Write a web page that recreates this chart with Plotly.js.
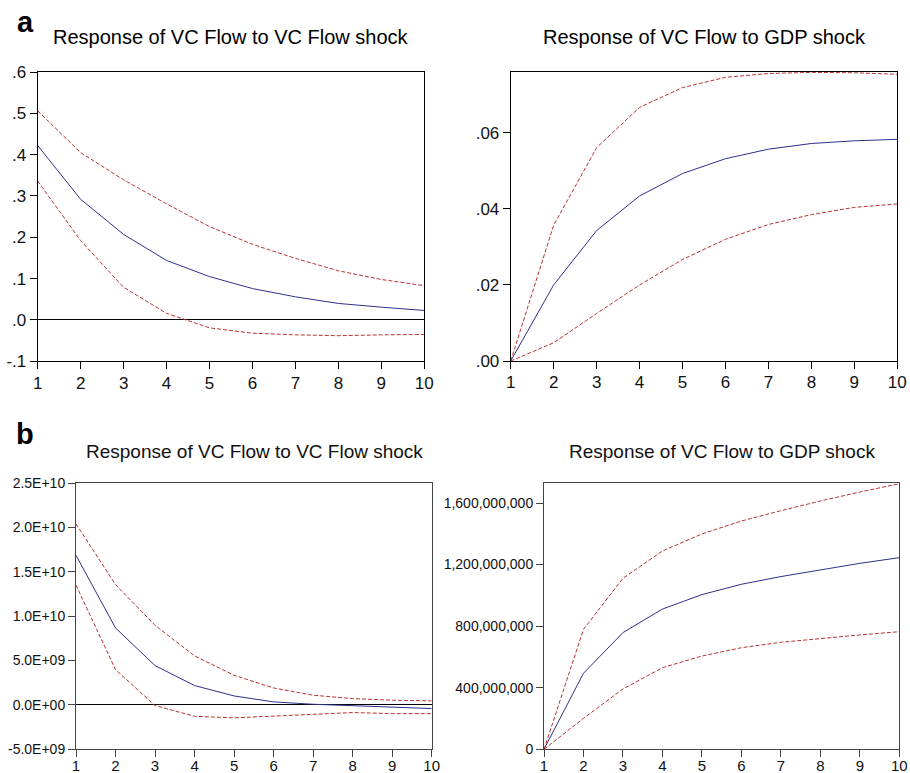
<!DOCTYPE html>
<html>
<head>
<meta charset="utf-8">
<script src="https://cdn.plot.ly/plotly-3.0.1.min.js"></script>
<style>html,body{margin:0;padding:0;background:#fff;}#chart{width:910px;height:773px;}</style>
</head>
<body>
<div id="chart"></div>
<script>
// Periods (horizon)
var periods = [1, 2, 3, 4, 5, 6, 7, 8, 9, 10];

// Panel a: Response of VC Flow to VC Flow shock
var aVcResp  = [0.422, 0.292, 0.207, 0.144, 0.105, 0.076, 0.056, 0.040, 0.031, 0.023];
var aVcUpper = [0.506, 0.405, 0.339, 0.281, 0.226, 0.183, 0.149, 0.119, 0.098, 0.083];
var aVcLower = [0.336, 0.192, 0.079, 0.016, -0.019, -0.032, -0.036, -0.038, -0.036, -0.035];

// Panel a: Response of VC Flow to GDP shock
var aGdpResp  = [0, 0.0200, 0.0343, 0.0434, 0.0493, 0.0532, 0.0557, 0.0572, 0.0579, 0.0583];
var aGdpUpper = [0, 0.0357, 0.0561, 0.0667, 0.0719, 0.0746, 0.0756, 0.0759, 0.0758, 0.0754];
var aGdpLower = [0, 0.0048, 0.0125, 0.0200, 0.0267, 0.0320, 0.0359, 0.0385, 0.0404, 0.0413];

// Panel b: Response of VC Flow to VC Flow shock
var bVcResp  = [1.685e10, 8.67e9, 4.43e9, 2.18e9, 1.01e9, 3.4e8, 7.5e7, -7.5e7, -2.3e8, -4.1e8];
var bVcUpper = [2.04e10, 1.355e10, 8.97e9, 5.52e9, 3.34e9, 1.91e9, 1.09e9, 7.1e8, 5.3e8, 4.5e8];
var bVcLower = [1.35e10, 3.98e9, -7.5e7, -1.28e9, -1.46e9, -1.24e9, -1.05e9, -8.6e8, -9.8e8, -9.8e8];

// Panel b: Response of VC Flow to GDP shock
var bGdpResp  = [0, 4.94e8, 7.58e8, 9.11e8, 1.005e9, 1.072e9, 1.122e9, 1.165e9, 1.208e9, 1.245e9];
var bGdpUpper = [0, 7.79e8, 1.111e9, 1.288e9, 1.399e9, 1.483e9, 1.550e9, 1.613e9, 1.671e9, 1.726e9];
var bGdpLower = [0, 2.01e8, 3.92e8, 5.30e8, 6.06e8, 6.60e8, 6.95e8, 7.21e8, 7.43e8, 7.64e8];

// Tick labels
var aVcTickVals = [-0.1, 0, 0.1, 0.2, 0.3, 0.4, 0.5, 0.6];
var aVcTickText = ["-.1", ".0", ".1", ".2", ".3", ".4", ".5", ".6"];
var aGdpTickVals = [0, 0.02, 0.04, 0.06];
var aGdpTickText = [".00", ".02", ".04", ".06"];
var bVcTickVals = [-5e9, 0, 5e9, 1e10, 1.5e10, 2e10, 2.5e10];
var bVcTickText = ["-5.0E+09", "0.0E+00", "5.0E+09", "1.0E+10", "1.5E+10", "2.0E+10", "2.5E+10"];
var bGdpTickVals = [0, 4e8, 8e8, 1.2e9, 1.6e9];
var bGdpTickText = ["0", "400,000,000", "800,000,000", "1,200,000,000", "1,600,000,000"];

var titles = ["Response of VC Flow to VC Flow shock", "Response of VC Flow to GDP shock"];

var BLUE = "#2f2f8c";
var RED = "#b83232";
var FONT = "Liberation Sans, Arial, Helvetica, sans-serif";

function trio(x, y, resp, up, lo) {
  return [
    {x: periods, y: resp, xaxis: x, yaxis: y, type: "scatter", mode: "lines",
     line: {color: BLUE, width: 1}, hoverinfo: "skip", showlegend: false},
    {x: periods, y: up, xaxis: x, yaxis: y, type: "scatter", mode: "lines",
     line: {color: RED, width: 1, dash: "4px,2px"}, hoverinfo: "skip", showlegend: false},
    {x: periods, y: lo, xaxis: x, yaxis: y, type: "scatter", mode: "lines",
     line: {color: RED, width: 1, dash: "4px,2px"}, hoverinfo: "skip", showlegend: false}
  ];
}

var data = [].concat(
  trio("x", "y", aVcResp, aVcUpper, aVcLower),
  trio("x2", "y2", aGdpResp, aGdpUpper, aGdpLower),
  trio("x3", "y3", bVcResp, bVcUpper, bVcLower),
  trio("x4", "y4", bGdpResp, bGdpUpper, bGdpLower)
);

function xax(domain, anchor, fs, lc, standoff) {
  return {domain: domain, anchor: anchor, range: [1, 10], tickvals: periods,
    ticks: "outside", ticklen: 7, tickcolor: lc, tickwidth: 1, ticklabelstandoff: standoff,
    showline: true, linecolor: lc, linewidth: 1, mirror: true,
    showgrid: false, zeroline: false, fixedrange: true,
    tickfont: {family: FONT, size: fs, color: "#111"}};
}
function yax(domain, anchor, range, tv, tt, fs, lc, zl) {
  return {domain: domain, anchor: anchor, range: range, tickvals: tv, ticktext: tt,
    ticks: "outside", ticklen: 7, tickcolor: lc, tickwidth: 1,
    showline: true, linecolor: lc, linewidth: 1, mirror: true,
    showgrid: false, zeroline: zl, zerolinecolor: "#000", zerolinewidth: 1, fixedrange: true,
    tickfont: {family: FONT, size: fs, color: "#111"}};
}

var W = 910, H = 773;
function dx(a, b) { return [a / W, b / W]; }
function dy(top, bottom) { return [1 - bottom / H, 1 - top / H]; }

var layout = {
  width: W, height: H,
  margin: {l: 0, r: 0, t: 0, b: 0},
  paper_bgcolor: "#fff", plot_bgcolor: "#fff",
  showlegend: false,
  font: {family: FONT},
  xaxis:  xax(dx(37.7, 424.3), "y", 17, "#000", -1),
  yaxis:  yax(dy(72, 361.3), "x", [-0.1, 0.6], aVcTickVals, aVcTickText, 17, "#000", true),
  xaxis2: xax(dx(510.7, 897.3), "y2", 17, "#000", -1),
  yaxis2: yax(dy(72, 361), "x2", [0, 0.0760], aGdpTickVals, aGdpTickText, 17, "#000", false),
  xaxis3: xax(dx(76, 431.7), "y3", 15, "#444", -4),
  yaxis3: yax(dy(483, 749.3), "x3", [-5e9, 2.5e10], bVcTickVals, bVcTickText, 14, "#444", true),
  xaxis4: xax(dx(544, 899.3), "y4", 15, "#444", -4),
  yaxis4: yax(dy(483.3, 749.3), "x4", [0, 1.728e9], bGdpTickVals, bGdpTickText, 14, "#444", false),
  annotations: [
    {text: "<b>a</b>", xref: "paper", yref: "paper", x: 15 / W, y: 1 - 22 / H, xanchor: "left", yanchor: "middle",
     showarrow: false, font: {family: FONT, size: 29, color: "#000"}},
    {text: "<b>b</b>", xref: "paper", yref: "paper", x: 14 / W, y: 1 - 434 / H, xanchor: "left", yanchor: "middle",
     showarrow: false, font: {family: FONT, size: 29, color: "#000"}},
    {text: titles[0], xref: "paper", yref: "paper", x: 231 / W, y: 1 - 37 / H, xanchor: "center", yanchor: "middle",
     showarrow: false, font: {family: FONT, size: 20, color: "#000"}},
    {text: titles[1], xref: "paper", yref: "paper", x: 704 / W, y: 1 - 37 / H, xanchor: "center", yanchor: "middle",
     showarrow: false, font: {family: FONT, size: 20, color: "#000"}},
    {text: titles[0], xref: "paper", yref: "paper", x: 254 / W, y: 1 - 451 / H, xanchor: "center", yanchor: "middle",
     showarrow: false, font: {family: FONT, size: 19, color: "#111"}},
    {text: titles[1], xref: "paper", yref: "paper", x: 722 / W, y: 1 - 451 / H, xanchor: "center", yanchor: "middle",
     showarrow: false, font: {family: FONT, size: 19, color: "#111"}}
  ]
};

Plotly.newPlot("chart", data, layout, {staticPlot: true, displayModeBar: false});
</script>
</body>
</html>
